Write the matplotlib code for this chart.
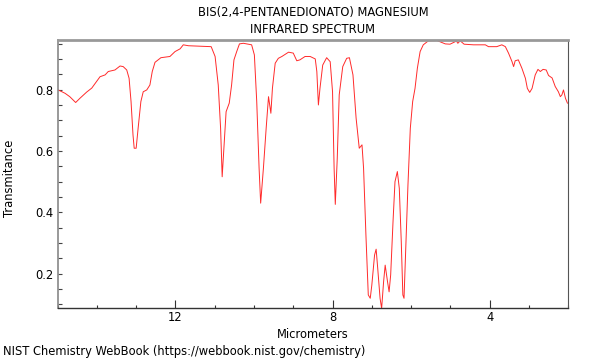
import matplotlib
matplotlib.use("Agg")
import matplotlib.pyplot as plt
from matplotlib.ticker import MultipleLocator

title_lines = ["BIS(2,4-PENTANEDIONATO) MAGNESIUM", "INFRARED SPECTRUM"]
x_label = "Micrometers"
y_label = "Transmitance"
footer = "NIST Chemistry WebBook (https://webbook.nist.gov/chemistry)"

wavelength_um = [
    15.00, 14.81, 14.69, 14.54, 14.43, 14.26, 14.13, 14.01, 13.92, 13.79,
    13.71, 13.54, 13.41, 13.33, 13.24, 13.18, 13.13, 13.08, 13.05, 13.00,
    12.95, 12.88, 12.82, 12.73, 12.65, 12.59, 12.52, 12.37, 12.14, 12.01,
    11.88, 11.80, 11.67, 11.09, 10.99, 10.91, 10.85, 10.81, 10.71, 10.63,
    10.57, 10.51, 10.44, 10.37, 10.27, 10.06, 9.99, 9.93, 9.87, 9.83,
    9.76, 9.69, 9.63, 9.57, 9.53, 9.46, 9.38, 9.29, 9.12, 9.00,
    8.91, 8.83, 8.70, 8.57, 8.44, 8.40, 8.36, 8.32, 8.25, 8.15,
    8.06, 8.00, 7.96, 7.93, 7.88, 7.83, 7.74, 7.64, 7.57, 7.48,
    7.40, 7.32, 7.25, 7.21, 7.15, 7.09, 7.04, 7.00, 6.93, 6.89,
    6.85, 6.79, 6.75, 6.70, 6.66, 6.60, 6.56, 6.52, 6.46, 6.41,
    6.35, 6.30, 6.25, 6.21, 6.18, 6.13, 6.08, 6.02, 5.96, 5.90,
    5.84, 5.77, 5.69, 5.56, 5.34, 5.13, 5.01, 4.88, 4.85, 4.81,
    4.75, 4.65, 4.41, 4.11, 4.03, 3.82, 3.69, 3.60, 3.52, 3.43,
    3.39, 3.35, 3.27, 3.18, 3.09, 3.04, 2.98, 2.92, 2.84, 2.77,
    2.71, 2.64, 2.56, 2.50, 2.41, 2.33, 2.25, 2.20, 2.16, 2.12,
    2.07, 2.02,
]
transmittance = [
    0.800, 0.788, 0.777, 0.758, 0.772, 0.792, 0.805, 0.826, 0.842, 0.848,
    0.859, 0.864, 0.877, 0.875, 0.864, 0.837, 0.761, 0.652, 0.609, 0.609,
    0.674, 0.761, 0.793, 0.799, 0.815, 0.859, 0.889, 0.904, 0.908, 0.924,
    0.933, 0.946, 0.943, 0.940, 0.908, 0.815, 0.674, 0.516, 0.728, 0.756,
    0.815, 0.897, 0.924, 0.949, 0.951, 0.946, 0.913, 0.761, 0.544, 0.430,
    0.544, 0.674, 0.777, 0.723, 0.805, 0.886, 0.902, 0.908, 0.922, 0.919,
    0.894, 0.897, 0.908, 0.908, 0.900, 0.859, 0.750, 0.804, 0.880, 0.904,
    0.891, 0.793, 0.544, 0.426, 0.576, 0.783, 0.875, 0.902, 0.904, 0.848,
    0.707, 0.609, 0.620, 0.544, 0.326, 0.131, 0.120, 0.163, 0.261, 0.280,
    0.218, 0.120, 0.087, 0.174, 0.228, 0.174, 0.141, 0.196, 0.370, 0.500,
    0.533, 0.478, 0.304, 0.131, 0.120, 0.304, 0.489, 0.674, 0.761, 0.804,
    0.870, 0.924, 0.946, 0.959, 0.960, 0.949, 0.948, 0.956, 0.959, 0.951,
    0.959, 0.948, 0.946, 0.946, 0.940, 0.940, 0.946, 0.940, 0.919, 0.891,
    0.875, 0.894, 0.897, 0.870, 0.837, 0.804, 0.791, 0.804, 0.848, 0.866,
    0.859, 0.866, 0.864, 0.846, 0.838, 0.810, 0.793, 0.777, 0.783, 0.799,
    0.772, 0.756,
]

x_ticks = [12, 8, 4]
y_ticks = [0.2, 0.4, 0.6, 0.8]

FS = 8.3

fig = plt.figure(figsize=(6, 3.6), dpi=100)
ax = fig.add_axes([0.096, 0.145, 0.851, 0.745])
ax.plot(wavelength_um, transmittance, color="#ff2a2a", lw=0.7)

ax.set_xlim(15, 2)
ax.set_ylim(0.089, 0.963)
ax.set_xticks(x_ticks)
ax.set_xticklabels([str(t) for t in x_ticks])
ax.xaxis.set_minor_locator(MultipleLocator(1))
ax.set_yticks(y_ticks)
ax.set_yticklabels([f"{t:.1f}" for t in y_ticks])
ax.yaxis.set_minor_locator(MultipleLocator(0.05))

ax.tick_params(axis="x", which="major", direction="in", length=6, width=0.8,
               colors="#333333", labelsize=FS, labelcolor="black", pad=2)
ax.tick_params(axis="x", which="minor", direction="in", length=2.5, width=0.8,
               colors="#333333")
ax.tick_params(axis="y", which="major", direction="in", length=3, width=0.8,
               colors="#444444", labelsize=FS, labelcolor="black", pad=3)
ax.tick_params(axis="y", which="minor", direction="in", length=3, width=0.8,
               colors="#444444")

ax.spines["top"].set_color("#999999")
ax.spines["top"].set_linewidth(2)
ax.spines["left"].set_color("#888888")
ax.spines["left"].set_linewidth(1.2)
ax.spines["right"].set_color("#555555")
ax.spines["right"].set_linewidth(0.8)
ax.spines["bottom"].set_color("#333333")
ax.spines["bottom"].set_linewidth(1)

ax.set_xlabel(x_label, fontsize=FS, labelpad=3)
ax.set_ylabel(y_label, fontsize=FS)
ax.yaxis.set_label_coords(-0.082, 0.484)

ax.text(0.5, 1 + (39.7 - 13) / 268, title_lines[0], transform=ax.transAxes,
        ha="center", va="center", fontsize=FS)
ax.text(0.5, 1 + (39.7 - 30) / 268, title_lines[1], transform=ax.transAxes,
        ha="center", va="center", fontsize=FS)
fig.text(3 / 600, 1 - 352 / 360, footer, ha="left", va="center", fontsize=FS)

fig.savefig("out.png", dpi=100)
